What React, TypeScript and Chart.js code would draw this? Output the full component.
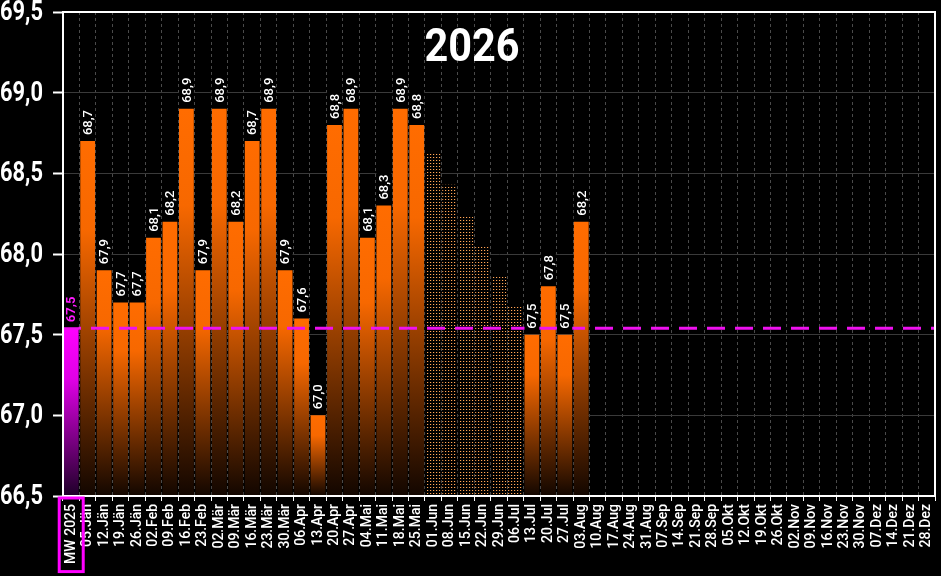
import React, { useEffect, useRef } from "react";
import { Chart, registerables } from "chart.js";

Chart.register(...registerables);

const TITLE = "2026";

const categories = [
  "MW 2025", "05.Jän", "12.Jän", "19.Jän", "26.Jän", "02.Feb", "09.Feb", "16.Feb", "23.Feb",
  "02.Mär", "09.Mär", "16.Mär", "23.Mär", "30.Mär", "06.Apr", "13.Apr", "20.Apr", "27.Apr",
  "04.Mai", "11.Mai", "18.Mai", "25.Mai", "01.Jun", "08.Jun", "15.Jun", "22.Jun", "29.Jun",
  "06.Jul", "13.Jul", "20.Jul", "27.Jul", "03.Aug", "10.Aug", "17.Aug", "24.Aug", "31.Aug",
  "07.Sep", "14.Sep", "21.Sep", "28.Sep", "05.Okt", "12.Okt", "19.Okt", "26.Okt", "02.Nov",
  "09.Nov", "16.Nov", "23.Nov", "30.Nov", "07.Dez", "14.Dez", "21.Dez", "28.Dez",
];

// previous-year average (first category) and its reference line
const averageValues = [67.54];
const averageLine = 67.54;

// weekly values (index 1 = 05.Jän)
const weeklyValues = [
  null, 68.7, 67.9, 67.7, 67.7, 68.1, 68.2, 68.9, 67.9,
  68.9, 68.2, 68.7, 68.9, 67.9, 67.6, 67.0, 68.8, 68.9,
  68.1, 68.3, 68.9, 68.8, null, null, null, null, null,
  null, 67.5, 67.8, 67.5, 68.2,
];

// estimated (dotted) weeks 01.Jun – 06.Jul
const estimatedValues = [
  null, null, null, null, null, null, null, null, null,
  null, null, null, null, null, null, null, null, null,
  null, null, null, null, 68.62, 68.43, 68.24, 68.05, 67.87,
  67.68,
];

const yMin = 66.5;
const yMax = 69.5;
const yStep = 0.5;

const FONT = "Roboto, 'DejaVu Sans', sans-serif";

const fmt = (v: number) => v.toFixed(1).replace(".", ",");

function makeDotPattern(ctx: CanvasRenderingContext2D) {
  const c = document.createElement("canvas");
  c.width = 3;
  c.height = 3;
  const p = c.getContext("2d")!;
  p.fillStyle = "#000";
  p.fillRect(0, 0, 3, 3);
  p.fillStyle = "#3a1a06";
  p.fillRect(2, 1, 1, 1);
  p.fillStyle = "#ffa858";
  p.fillRect(1, 1, 1, 1);
  return ctx.createPattern(c, "repeat");
}

function gradientFor(chart: any, raw: any, stops: [number, string][], flat: string) {
  const area = chart.chartArea;
  const y = chart.scales && chart.scales.y;
  if (!area || !y || raw == null || typeof raw !== "number") return flat;
  const top = y.getPixelForValue(raw);
  if (!isFinite(top) || top >= area.bottom) return flat;
  const g = chart.ctx.createLinearGradient(0, top, 0, area.bottom);
  stops.forEach(([o, c]) => g.addColorStop(o, c));
  return g;
}

const overlayPlugin = {
  id: "overlay",
  afterDatasetsDraw(chart: any) {
    const { ctx, chartArea: a, scales } = chart;
    const y = scales.y;
    // average dashed line
    const ly = y.getPixelForValue(averageLine);
    ctx.save();
    ctx.strokeStyle = "#ee11ee";
    ctx.lineWidth = 3;
    ctx.setLineDash([18, 10]);
    ctx.beginPath();
    ctx.moveTo(a.left, ly);
    ctx.lineTo(a.right, ly);
    ctx.stroke();
    ctx.restore();

    // value labels
    const drawLabels = (dsIndex: number, color: string, weight: string) => {
      const meta = chart.getDatasetMeta(dsIndex);
      const data = chart.data.datasets[dsIndex].data;
      meta.data.forEach((el: any, i: number) => {
        const v = data[i];
        if (v == null) return;
        const txt = fmt(v as number);
        ctx.save();
        ctx.font = `${weight} 13px ${FONT}`;
        const w = ctx.measureText(txt).width;
        const bw = el.width;
        ctx.fillStyle = "#000";
        ctx.fillRect(el.x - bw / 2, el.y - w - 10, bw, w + 9);
        ctx.translate(el.x + 1, el.y - 6);
        ctx.rotate(-Math.PI / 2);
        ctx.fillStyle = color;
        ctx.textAlign = "left";
        ctx.textBaseline = "middle";
        ctx.fillText(txt, 0, 0);
        ctx.restore();
      });
    };
    drawLabels(0, "#ff1aff", "bold");
    drawLabels(1, "#ffffff", "500");

    // frame
    ctx.save();
    ctx.strokeStyle = "#ffffff";
    ctx.lineWidth = 2;
    ctx.strokeRect(a.left, a.top, a.right - a.left, a.bottom - a.top);
    ctx.restore();

    // title
    ctx.save();
    ctx.fillStyle = "#ffffff";
    ctx.font = `bold 46px ${FONT}`;
    ctx.textAlign = "center";
    ctx.textBaseline = "middle";
    ctx.translate(chart.width / 2 + 1.5, a.top + 37);
    ctx.scale(0.9, 1);
    ctx.fillText(TITLE, 0, 0);
    ctx.restore();
  },
  afterDraw(chart: any) {
    const { ctx, scales } = chart;
    const x = scales.x;
    const y = scales.y;
    // y tick labels (condensed)
    ctx.save();
    ctx.fillStyle = "#ffffff";
    ctx.font = `bold 28px ${FONT}`;
    ctx.textAlign = "right";
    ctx.textBaseline = "middle";
    y.ticks.forEach((t: any) => {
      const py = y.getPixelForValue(t.value);
      ctx.save();
      ctx.translate(y.right - 20, py + 1);
      ctx.scale(0.78, 1);
      ctx.fillText(fmt(t.value), 0, 0);
      ctx.restore();
    });
    ctx.restore();

    // box around first category label
    ctx.save();
    ctx.font = `14px ${FONT}`;
    const w = ctx.measureText(categories[0]).width;
    const cx = x.getPixelForValue(0);
    ctx.strokeStyle = "#ff00ff";
    ctx.lineWidth = 3;
    ctx.strokeRect(cx - 12, x.top + 2, 24, w + 14);
    ctx.restore();
  },
};

export default function App() {
  const ref = useRef<HTMLCanvasElement>(null);

  useEffect(() => {
    document.body.style.margin = "0";
    document.body.style.background = "#000";
    const canvas = ref.current!;
    const ctx2d = canvas.getContext("2d")!;
    const pattern = makeDotPattern(ctx2d);

    const chart = new Chart(canvas, {
      type: "bar",
      data: {
        labels: categories,
        datasets: [
          {
            label: "MW 2025",
            data: averageValues,
            grouped: false,
            barPercentage: 0.9,
            categoryPercentage: 1,
            backgroundColor: (c: any) =>
              gradientFor(c.chart, c.raw, [[0, "#ff00ff"], [0.3, "#e000e6"], [1, "#1e0028"]], "#ff00ff"),
          } as any,
          {
            label: "2026",
            data: weeklyValues,
            grouped: false,
            barPercentage: 0.9,
            categoryPercentage: 1,
            backgroundColor: (c: any) =>
              gradientFor(c.chart, c.raw, [[0, "#ff6c00"], [0.25, "#f76800"], [1, "#120600"]], "#ff6c00"),
          } as any,
          {
            label: "Schätzung",
            data: estimatedValues,
            grouped: false,
            barPercentage: 0.9,
            categoryPercentage: 1,
            backgroundColor: pattern as any,
          } as any,
        ],
      },
      options: {
        animation: false,
        responsive: false,
        layout: { padding: { top: 12, right: 6, left: 0, bottom: 0 } },
        plugins: {
          legend: { display: false },
          title: { display: false },
          tooltip: { enabled: false },
        },
        scales: {
          x: {
            offset: true,
            afterFit: (s: any) => {
              s.height = 80;
              s.paddingLeft = 0;
              s.paddingRight = 0;
            },
            grid: {
              color: "#4a4a4a",
              lineWidth: 1,
              tickColor: "#ffffff",
              tickLength: 5,
              tickWidth: 1,
              offset: true,
            },
            border: { display: true, color: "#ffffff", width: 2, dash: [3, 3] },
            ticks: {
              color: "#ffffff",
              font: { family: FONT, size: 14, weight: "500" },
              minRotation: 90,
              maxRotation: 90,
              autoSkip: false,
              padding: 3,
            },
          },
          y: {
            min: yMin,
            max: yMax,
            afterFit: (s: any) => {
              s.width = 63;
              s.paddingTop = 0;
              s.paddingBottom = 0;
            },
            grid: {
              color: "#3a3a3a",
              lineWidth: 1,
              tickColor: "#ffffff",
              tickLength: 10,
              tickWidth: 2,
            },
            border: { display: true, color: "#ffffff", width: 2 },
            ticks: {
              stepSize: yStep,
              display: false,
            },
          },
        },
      },
      plugins: [overlayPlugin],
    });
    return () => chart.destroy();
  }, []);

  return (
    <div style={{ width: 941, height: 576, background: "#000" }}>
      <canvas ref={ref} width={941} height={576} style={{ display: "block" }} />
    </div>
  );
}
